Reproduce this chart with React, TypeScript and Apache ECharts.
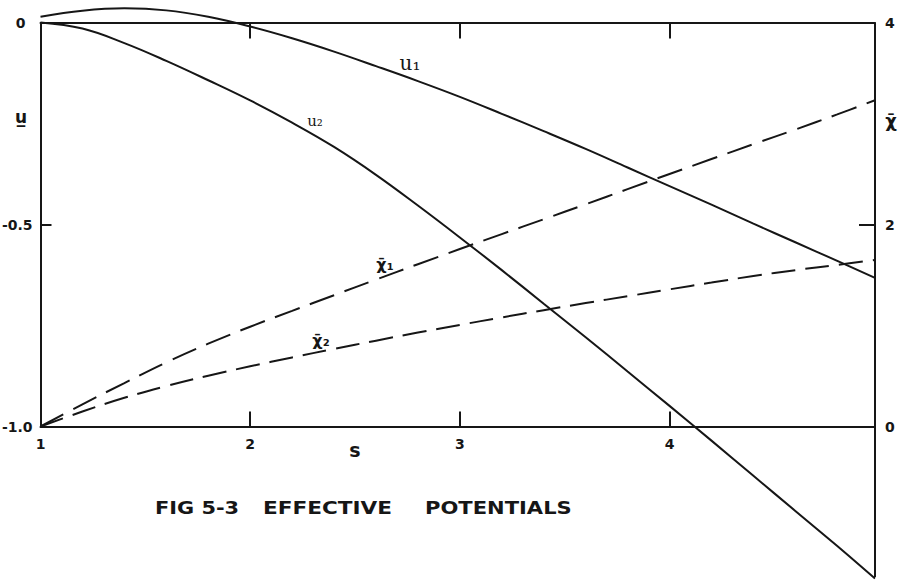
import { useEffect, useRef } from "react";
import * as echarts from "echarts";

// s (abscissa) sample points
const sValues = [1.0, 1.2, 1.4, 1.6, 1.8, 2.0, 2.2, 2.4, 2.6, 2.8, 3.0, 3.2, 3.4, 3.6, 3.8, 4.0, 4.2, 4.4, 4.6, 4.8, 4.98];
// effective potentials u (left axis)
const u1Values = [0.014, 0.029, 0.035, 0.03, 0.014, -0.01, -0.039, -0.072, -0.108, -0.145, -0.184, -0.226, -0.269, -0.313, -0.359, -0.405, -0.451, -0.498, -0.544, -0.59, -0.632];
const u2Values = [0, -0.015, -0.051, -0.095, -0.143, -0.193, -0.248, -0.308, -0.377, -0.453, -0.532, -0.613, -0.696, -0.779, -0.864, -0.949, -1.035, -1.122, -1.209, -1.296, -1.376];
// chi-bar (right axis)
const chi1Values = [0, 0.22, 0.43, 0.635, 0.82, 0.988, 1.145, 1.3, 1.455, 1.607, 1.757, 1.905, 2.052, 2.2, 2.35, 2.5, 2.648, 2.795, 2.94, 3.09, 3.23];
const chi2Values = [0, 0.148, 0.284, 0.4, 0.503, 0.596, 0.684, 0.768, 0.85, 0.93, 1.006, 1.08, 1.152, 1.222, 1.29, 1.358, 1.425, 1.49, 1.548, 1.6, 1.649];

// axes
const sMin = 1;
const sMax = 4.98;
const sTickLabels = [1, 2, 3, 4];
const sInnerTicks = [2, 3, 4];
const uMin = -1.39;
const uMax = 0.05;
const uTicks = [0, -0.5, -1];
const uTickLabels = ["0", "-0.5", "-1.0"];
const uInnerTicks = [-0.5];
const chiMin = -1.56;
const chiMax = 4.2;
const chiTicks = [4, 2, 0];
const chiTickLabels = ["4", "2", "0"];
const chiInnerTicks = [2];
const chiAxisBottom = -1.49;

const INK = "#161616";
const tickFont = { color: INK, fontFamily: "DejaVu Sans", fontWeight: "bold" as const, fontSize: 14 };

const W = 901;
const H = 587;
const GRID_TOP = 2.3;
const GRID_BOTTOM = 2.94;

export default function App() {
  const ref = useRef<HTMLDivElement>(null);

  useEffect(() => {
    const chart = echarts.init(ref.current!, null, { renderer: "svg" });
    const pairs = (ys: number[]) => sValues.map((s, i) => [s, ys[i]]);
    const frameLine = { color: INK, width: 2, type: "solid" as const };

    // the frame sits inside the (taller) plotting grid: shift the s axes onto it
    const plotH = H - GRID_TOP - GRID_BOTTOM;
    const yOfU = (u: number) => GRID_TOP + ((uMax - u) / (uMax - uMin)) * plotH;
    const bottomOffset = -(H - GRID_BOTTOM - yOfU(-1));
    const topOffset = -(yOfU(0) - GRID_TOP);

    chart.setOption({
      animation: false,
      backgroundColor: "#ffffff",
      grid: { left: 40.5, right: 26, top: GRID_TOP, bottom: GRID_BOTTOM, containLabel: false, outerBoundsMode: "none" },
      xAxis: [
        {
          type: "value",
          min: sMin,
          max: sMax,
          position: "bottom",
          offset: bottomOffset,
          axisLine: { show: true, onZero: false, lineStyle: frameLine },
          axisTick: { show: true, inside: true, length: 15, customValues: sInnerTicks, lineStyle: { color: INK, width: 2 } },
          axisLabel: { show: true, customValues: sTickLabels, margin: 10, showMinLabel: true, showMaxLabel: true, ...tickFont },
          splitLine: { show: false },
        },
        {
          type: "value",
          min: sMin,
          max: sMax,
          position: "top",
          offset: topOffset,
          axisLine: { show: true, onZero: false, lineStyle: frameLine },
          axisTick: { show: true, inside: true, length: 16, customValues: sInnerTicks, lineStyle: { color: INK, width: 2 } },
          axisLabel: { show: false },
          splitLine: { show: false },
        },
      ],
      yAxis: [
        {
          type: "value",
          min: uMin,
          max: uMax,
          position: "left",
          axisLine: { show: false },
          axisTick: { show: true, inside: true, length: 11, customValues: uInnerTicks, lineStyle: { color: INK, width: 2 } },
          axisLabel: {
            show: true,
            customValues: uTicks,
            margin: 8,
            formatter: (v: number) => {
              const t = uTickLabels[uTicks.indexOf(v)] ?? "";
              return v === 0 ? "{z|" + t + "}" : t;
            },
            rich: { z: { ...tickFont, padding: [0, 7, 0, 0] } },
            ...tickFont,
          },
          splitLine: { show: false },
        },
        {
          type: "value",
          min: chiMin,
          max: chiMax,
          position: "right",
          axisLine: { show: false },
          axisTick: { show: true, inside: true, length: 16, customValues: chiInnerTicks, lineStyle: { color: INK, width: 2 } },
          axisLabel: {
            show: true,
            customValues: chiTicks,
            margin: 10,
            formatter: (v: number) => chiTickLabels[chiTicks.indexOf(v)] ?? "",
            ...tickFont,
          },
          splitLine: { show: false },
        },
      ],
      series: [
        {
          name: "u1",
          type: "line",
          xAxisIndex: 0,
          yAxisIndex: 0,
          data: pairs(u1Values),
          smooth: 0.4,
          symbol: "none",
          lineStyle: { color: INK, width: 2 },
          markLine: {
            silent: true,
            symbol: ["none", "none"],
            label: { show: false },
            lineStyle: frameLine,
            data: [[{ coord: [sMin, 0] }, { coord: [sMin, -1] }]],
          },
        },
        {
          name: "u2",
          type: "line",
          xAxisIndex: 0,
          yAxisIndex: 0,
          data: pairs(u2Values),
          smooth: 0.4,
          symbol: "none",
          lineStyle: { color: INK, width: 2 },
        },
        {
          name: "chi1",
          type: "line",
          xAxisIndex: 0,
          yAxisIndex: 1,
          data: pairs(chi1Values),
          smooth: 0.4,
          symbol: "none",
          lineStyle: { color: INK, width: 2, type: [26, 11] },
          markLine: {
            silent: true,
            symbol: ["none", "none"],
            label: { show: false },
            lineStyle: frameLine,
            data: [[{ coord: [sMax, 4] }, { coord: [sMax, chiAxisBottom] }]],
          },
        },
        {
          name: "chi2",
          type: "line",
          xAxisIndex: 0,
          yAxisIndex: 1,
          data: pairs(chi2Values),
          smooth: 0.4,
          symbol: "none",
          lineStyle: { color: INK, width: 2, type: [24, 10] },
        },
      ],
      graphic: [
        { type: "text", x: 21, y: 117, silent: true, style: { text: "u\u0332", fill: INK, font: "bold 17px 'DejaVu Sans'", textAlign: "center", textVerticalAlign: "middle" } },
        { type: "text", x: 891, y: 120, silent: true, style: { text: "\u03c7\u0304", fill: INK, font: "bold 18px 'DejaVu Sans'", textAlign: "center", textVerticalAlign: "middle" } },
        { type: "text", x: 355, y: 450, silent: true, style: { text: "s", fill: INK, font: "bold 19px 'DejaVu Sans'", textAlign: "center", textVerticalAlign: "middle" } },
        { type: "text", x: 410, y: 63, silent: true, style: { text: "u\u2081", fill: INK, font: "20px 'DejaVu Serif'", textAlign: "center", textVerticalAlign: "middle" } },
        { type: "text", x: 315, y: 121, silent: true, style: { text: "u\u2082", fill: INK, font: "15px 'DejaVu Serif'", textAlign: "center", textVerticalAlign: "middle" } },
        { type: "text", x: 385, y: 264, silent: true, style: { text: "\u03c7\u0304\u2081", fill: INK, font: "bold 16px 'DejaVu Sans'", textAlign: "center", textVerticalAlign: "middle" } },
        { type: "text", x: 321, y: 340, silent: true, style: { text: "\u03c7\u0304\u2082", fill: INK, font: "bold 16px 'DejaVu Sans'", textAlign: "center", textVerticalAlign: "middle" } },
        { type: "text", x: 155, y: 508, scaleX: 1.16, silent: true, style: { text: "FIG 5-3", fill: INK, font: "bold 18px 'DejaVu Sans'", textAlign: "left", textVerticalAlign: "middle" } },
        { type: "text", x: 263, y: 508, scaleX: 1.2, silent: true, style: { text: "EFFECTIVE", fill: INK, font: "bold 18px 'DejaVu Sans'", textAlign: "left", textVerticalAlign: "middle" } },
        { type: "text", x: 425, y: 508, scaleX: 1.17, silent: true, style: { text: "POTENTIALS", fill: INK, font: "bold 18px 'DejaVu Sans'", textAlign: "left", textVerticalAlign: "middle" } },
      ],
    });

    return () => chart.dispose();
  }, []);

  return (
    <div
      ref={ref}
      style={{ position: "fixed", left: 0, top: 0, width: W, height: H, background: "#ffffff" }}
    />
  );
}
